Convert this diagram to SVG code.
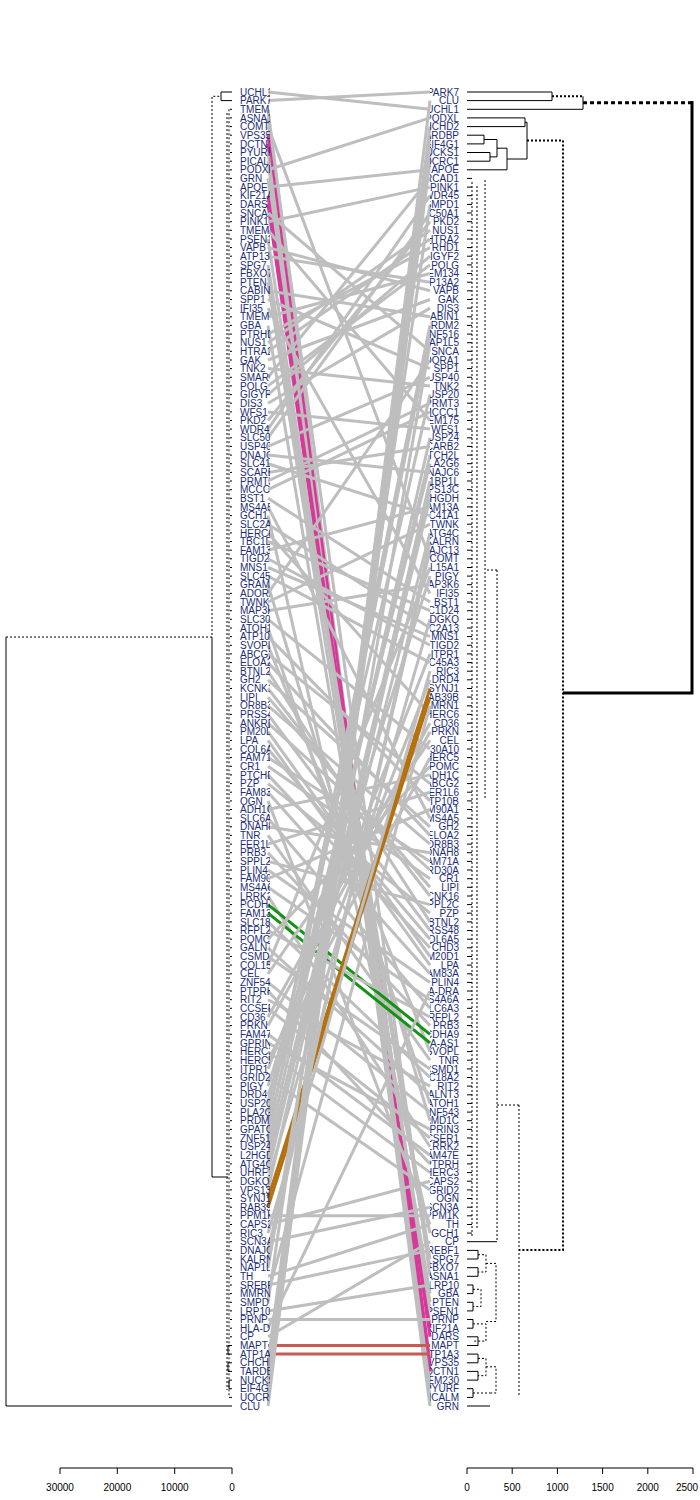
<svg xmlns="http://www.w3.org/2000/svg" width="700" height="1500" viewBox="0 0 700 1500">
<style>
.lab{font-family:"Liberation Sans",Arial,sans-serif;font-size:10px;fill:#1b2d78}
.re{text-anchor:end}
.cn line{stroke:#bebebe;stroke-width:3}
.cn line.m{stroke:#d6399a}
.cn line.b{stroke:#b4700c}
.cn line.g{stroke:#139313}
.cn line.r{stroke:#c75a52}
.d{fill:none;stroke:#000;stroke-width:1}
.dt{fill:none;stroke:#000;stroke-width:1;stroke-dasharray:2 2}
.ax{font-family:"Liberation Sans",Arial,sans-serif;font-size:10px;fill:#000;text-anchor:middle}
</style>
<defs>
<clipPath id="cl"><rect x="232" y="80" width="38" height="1340"/></clipPath>
<clipPath id="cr"><rect x="430" y="80" width="36" height="1340"/></clipPath>
</defs>
<rect width="700" height="1500" fill="#fff"/>

<g id="left-dendrogram">
<path class="d" d="M6,637V1406H232"/>
<path class="dt" d="M6,637H212V96.3H221"/>
<path class="d" d="M232,92H221V100.6H232"/>
<path class="d" d="M212,637V1177H228"/>
<path class="dt" d="M229,109.3V1397.4M227,113V1390"/>
<path class="dt" d="M232,109.3h-3M232,117.9h-3M232,126.6h-3M232,135.2h-3M232,143.9h-3M232,152.5h-3M232,161.2h-3M232,169.8h-3M232,178.4h-3M232,187.1h-3M232,195.7h-3M232,204.4h-3M232,213h-3M232,221.7h-3M232,230.3h-3M232,239h-3M232,247.6h-3M232,256.2h-3M232,264.9h-3M232,273.5h-3M232,282.2h-3M232,290.8h-3M232,299.5h-3M232,308.1h-3M232,316.8h-3M232,325.4h-3M232,334.1h-3M232,342.7h-3M232,351.3h-3M232,360h-3M232,368.6h-3M232,377.3h-3M232,385.9h-3M232,394.6h-3M232,403.2h-3M232,411.9h-3M232,420.5h-3M232,429.1h-3M232,437.8h-3M232,446.4h-3M232,455.1h-3M232,463.7h-3M232,472.4h-3M232,481h-3M232,489.7h-3M232,498.3h-3M232,506.9h-3M232,515.6h-3M232,524.2h-3M232,532.9h-3M232,541.5h-3M232,550.2h-3M232,558.8h-3M232,567.5h-3M232,576.1h-3M232,584.7h-3M232,593.4h-3M232,602h-3M232,610.7h-3M232,619.3h-3M232,628h-3M232,636.6h-3M232,645.3h-3M232,653.9h-3M232,662.6h-3M232,671.2h-3M232,679.8h-3M232,688.5h-3M232,697.1h-3M232,705.8h-3M232,714.4h-3M232,723.1h-3M232,731.7h-3M232,740.4h-3M232,749h-3M232,757.6h-3M232,766.3h-3M232,774.9h-3M232,783.6h-3M232,792.2h-3M232,800.9h-3M232,809.5h-3M232,818.2h-3M232,826.8h-3M232,835.4h-3M232,844.1h-3M232,852.7h-3M232,861.4h-3M232,870h-3M232,878.7h-3M232,887.3h-3M232,896h-3M232,904.6h-3M232,913.2h-3M232,921.9h-3M232,930.5h-3M232,939.2h-3M232,947.8h-3M232,956.5h-3M232,965.1h-3M232,973.8h-3M232,982.4h-3M232,991h-3M232,999.7h-3M232,1008.3h-3M232,1017h-3M232,1025.6h-3M232,1034.3h-3M232,1042.9h-3M232,1051.6h-3M232,1060.2h-3M232,1068.9h-3M232,1077.5h-3M232,1086.1h-3M232,1094.8h-3M232,1103.4h-3M232,1112.1h-3M232,1120.7h-3M232,1129.4h-3M232,1138h-3M232,1146.7h-3M232,1155.3h-3M232,1163.9h-3M232,1172.6h-3M232,1181.2h-3M232,1189.9h-3M232,1198.5h-3M232,1207.2h-3M232,1215.8h-3M232,1224.5h-3M232,1233.1h-3M232,1241.7h-3M232,1250.4h-3M232,1259h-3M232,1267.7h-3M232,1276.3h-3M232,1285h-3M232,1293.6h-3M232,1302.3h-3M232,1310.9h-3M232,1319.5h-3M232,1328.2h-3M232,1336.8h-3"/>
<path class="d" d="M232,1345.5h-4v8.6h4M232,1362.8h-4v8.6h4M232,1380.1h-3v8.6h3M232,1397.4h-3"/>
</g>

<g id="right-dendrogram">
<path class="d" d="M467,92H552V100.6H467"/>
<path class="dt" style="stroke-width:2" d="M552,96.3H583"/>
<path class="d" d="M467,109.3H583V96.3"/>
<path class="dt" style="stroke-width:3;stroke-dasharray:4 3" d="M583,102.8H692"/>
<path class="d" style="stroke-width:3" d="M692,101V693H563"/>
<path class="dt" style="stroke-width:2" d="M527,140.6H563V1250H519"/>
<path class="d" d="M467,117.9H525V126.6H467M525,122.3H527V159H507M467,135.2H484V143.9H467M484,139.5H497M467,152.5H490V161.2H467M490,156.9H497V139.5M497,148.2H507V169.8H467"/>
<path class="dt" d="M519,1105V1395M519,1105H497M497,570V1240M497,570H485M485,180V800M472,182V1236M477,186V1230"/>
<path class="d" d="M467,178.4h5M467,187.1h5M467,195.7h5M467,204.4h5M467,213h5M467,221.7h5M467,230.3h5M467,239h5M467,247.6h5M467,256.2h5M467,264.9h5M467,273.5h5M467,282.2h5M467,290.8h5M467,299.5h5M467,308.1h5M467,316.8h5M467,325.4h5M467,334.1h5M467,342.7h5M467,351.3h5M467,360h5M467,368.6h5M467,377.3h5M467,385.9h5M467,394.6h5M467,403.2h5M467,411.9h5M467,420.5h5M467,429.1h5M467,437.8h5M467,446.4h5M467,455.1h5M467,463.7h5M467,472.4h5M467,481h5M467,489.7h5M467,498.3h5M467,506.9h5M467,515.6h5M467,524.2h5M467,532.9h5M467,541.5h5M467,550.2h5M467,558.8h5M467,567.5h5M467,576.1h5M467,584.7h5M467,593.4h5M467,602h5M467,610.7h5M467,619.3h5M467,628h5M467,636.6h5M467,645.3h5M467,653.9h5M467,662.6h5M467,671.2h5M467,679.8h5M467,688.5h5M467,697.1h5M467,705.8h5M467,714.4h5M467,723.1h5M467,731.7h5M467,740.4h5M467,749h5M467,757.6h5M467,766.3h5M467,774.9h5M467,783.6h5M467,792.2h5M467,800.9h5M467,809.5h5M467,818.2h5M467,826.8h5M467,835.4h5M467,844.1h5M467,852.7h5M467,861.4h5M467,870h5M467,878.7h5M467,887.3h5M467,896h5M467,904.6h5M467,913.2h5M467,921.9h5M467,930.5h5M467,939.2h5M467,947.8h5M467,956.5h5M467,965.1h5M467,973.8h5M467,982.4h5M467,991h5M467,999.7h5M467,1008.3h5M467,1017h5M467,1025.6h5M467,1034.3h5M467,1042.9h5M467,1051.6h5M467,1060.2h5M467,1068.9h5M467,1077.5h5M467,1086.1h5M467,1094.8h5M467,1103.4h5M467,1112.1h5M467,1120.7h5M467,1129.4h5M467,1138h5M467,1146.7h5M467,1155.3h5M467,1163.9h5M467,1172.6h5M467,1181.2h5M467,1189.9h5M467,1198.5h5M467,1207.2h5M467,1215.8h5M467,1224.5h5M467,1233.1h5M467,1241.7h30"/>
<path class="d" d="M467,1250.4h11v8.6h-11M467,1267.7h11v8.6h-11M467,1285h6v8.6h-6M467,1302.3h6v8.6h-6M467,1319.5h6v8.7h-6M467,1336.8h11v8.7h-11M467,1354.1h11v8.7h-11M467,1371.4h11v8.7h-11M467,1388.7h6v8.7h-6M467,1406h23"/>
<path class="dt" d="M478,1254.7h8v17.3h-8M473,1289.3h8v17.3h-8M473,1323.9h13v17.2h-13M478,1358.4h8v17.3h-8M473,1393h17M486,1263.4h10v58.1h-10M486,1366.8h10v26.2h-6"/>
</g>

<g id="connectors" class="cn">
<line x1="268" y1="92" x2="430" y2="109.3"/>
<line x1="268" y1="100.6" x2="430" y2="92"/>
<line x1="268" y1="109.3" x2="430" y2="1380.1"/>
<line x1="268" y1="117.9" x2="430" y2="1276.3"/>
<line x1="268" y1="126.6" x2="430" y2="558.8"/>
<line class="m" x1="268" y1="135.2" x2="430" y2="1362.8"/>
<line class="m" x1="268" y1="143.9" x2="430" y2="1371.4"/>
<line x1="268" y1="152.5" x2="430" y2="1388.7"/>
<line x1="268" y1="161.2" x2="430" y2="1397.4"/>
<line x1="268" y1="169.8" x2="430" y2="117.9"/>
<line x1="268" y1="178.4" x2="430" y2="1406"/>
<line x1="268" y1="187.1" x2="430" y2="169.8"/>
<line class="m" x1="268" y1="195.7" x2="430" y2="1328.2"/>
<line class="m" x1="268" y1="204.4" x2="430" y2="1336.8"/>
<line x1="268" y1="213" x2="430" y2="351.3"/>
<line x1="268" y1="221.7" x2="430" y2="187.1"/>
<line x1="268" y1="230.3" x2="430" y2="420.5"/>
<line x1="268" y1="239" x2="430" y2="1310.9"/>
<line x1="268" y1="247.6" x2="430" y2="290.8"/>
<line x1="268" y1="256.2" x2="430" y2="282.2"/>
<line x1="268" y1="264.9" x2="430" y2="1259"/>
<line x1="268" y1="273.5" x2="430" y2="1267.7"/>
<line x1="268" y1="282.2" x2="430" y2="1302.3"/>
<line x1="268" y1="290.8" x2="430" y2="316.8"/>
<line x1="268" y1="299.5" x2="430" y2="368.6"/>
<line x1="268" y1="308.1" x2="430" y2="593.4"/>
<line x1="268" y1="316.8" x2="430" y2="273.5"/>
<line x1="268" y1="325.4" x2="430" y2="1293.6"/>
<line x1="268" y1="334.1" x2="430" y2="247.6"/>
<line x1="268" y1="342.7" x2="430" y2="230.3"/>
<line x1="268" y1="351.3" x2="430" y2="239"/>
<line x1="268" y1="360" x2="430" y2="299.5"/>
<line x1="268" y1="368.6" x2="430" y2="385.9"/>
<line x1="268" y1="377.3" x2="430" y2="178.4"/>
<line x1="268" y1="385.9" x2="430" y2="264.9"/>
<line x1="268" y1="394.6" x2="430" y2="256.2"/>
<line x1="268" y1="403.2" x2="430" y2="308.1"/>
<line x1="268" y1="411.9" x2="430" y2="429.1"/>
<line x1="268" y1="420.5" x2="430" y2="221.7"/>
<line x1="268" y1="429.1" x2="430" y2="195.7"/>
<line x1="268" y1="437.8" x2="430" y2="213"/>
<line x1="268" y1="446.4" x2="430" y2="377.3"/>
<line x1="268" y1="455.1" x2="430" y2="472.4"/>
<line x1="268" y1="463.7" x2="430" y2="515.6"/>
<line x1="268" y1="472.4" x2="430" y2="446.4"/>
<line x1="268" y1="481" x2="430" y2="403.2"/>
<line x1="268" y1="489.7" x2="430" y2="411.9"/>
<line x1="268" y1="498.3" x2="430" y2="602"/>
<line x1="268" y1="506.9" x2="430" y2="818.2"/>
<line x1="268" y1="515.6" x2="430" y2="1233.1"/>
<line x1="268" y1="524.2" x2="430" y2="628"/>
<line x1="268" y1="532.9" x2="430" y2="714.4"/>
<line x1="268" y1="541.5" x2="430" y2="610.7"/>
<line x1="268" y1="550.2" x2="430" y2="506.9"/>
<line x1="268" y1="558.8" x2="430" y2="645.3"/>
<line x1="268" y1="567.5" x2="430" y2="636.6"/>
<line x1="268" y1="576.1" x2="430" y2="662.6"/>
<line x1="268" y1="584.7" x2="430" y2="1120.7"/>
<line x1="268" y1="593.4" x2="430" y2="360"/>
<line x1="268" y1="602" x2="430" y2="524.2"/>
<line x1="268" y1="610.7" x2="430" y2="584.7"/>
<line x1="268" y1="619.3" x2="430" y2="749"/>
<line x1="268" y1="628" x2="430" y2="1103.4"/>
<line x1="268" y1="636.6" x2="430" y2="800.9"/>
<line x1="268" y1="645.3" x2="430" y2="1051.6"/>
<line x1="268" y1="653.9" x2="430" y2="783.6"/>
<line x1="268" y1="662.6" x2="430" y2="835.4"/>
<line x1="268" y1="671.2" x2="430" y2="921.9"/>
<line x1="268" y1="679.8" x2="430" y2="826.8"/>
<line x1="268" y1="688.5" x2="430" y2="896"/>
<line x1="268" y1="697.1" x2="430" y2="887.3"/>
<line x1="268" y1="705.8" x2="430" y2="844.1"/>
<line x1="268" y1="714.4" x2="430" y2="930.5"/>
<line x1="268" y1="723.1" x2="430" y2="870"/>
<line x1="268" y1="731.7" x2="430" y2="956.5"/>
<line x1="268" y1="740.4" x2="430" y2="965.1"/>
<line x1="268" y1="749" x2="430" y2="939.2"/>
<line x1="268" y1="757.6" x2="430" y2="861.4"/>
<line x1="268" y1="766.3" x2="430" y2="878.7"/>
<line x1="268" y1="774.9" x2="430" y2="947.8"/>
<line x1="268" y1="783.6" x2="430" y2="913.2"/>
<line x1="268" y1="792.2" x2="430" y2="973.8"/>
<line x1="268" y1="800.9" x2="430" y2="1224.5"/>
<line x1="268" y1="809.5" x2="430" y2="774.9"/>
<line x1="268" y1="818.2" x2="430" y2="1008.3"/>
<line x1="268" y1="826.8" x2="430" y2="852.7"/>
<line x1="268" y1="835.4" x2="430" y2="1060.2"/>
<line x1="268" y1="844.1" x2="430" y2="792.2"/>
<line x1="268" y1="852.7" x2="430" y2="1025.6"/>
<line x1="268" y1="861.4" x2="430" y2="904.6"/>
<line x1="268" y1="870" x2="430" y2="982.4"/>
<line x1="268" y1="878.7" x2="430" y2="809.5"/>
<line x1="268" y1="887.3" x2="430" y2="999.7"/>
<line x1="268" y1="896" x2="430" y2="1146.7"/>
<line class="g" x1="268" y1="904.6" x2="430" y2="1034.3"/>
<line class="g" x1="268" y1="913.2" x2="430" y2="1042.9"/>
<line x1="268" y1="921.9" x2="430" y2="1077.5"/>
<line x1="268" y1="930.5" x2="430" y2="1017"/>
<line x1="268" y1="939.2" x2="430" y2="766.3"/>
<line x1="268" y1="947.8" x2="430" y2="1094.8"/>
<line x1="268" y1="956.5" x2="430" y2="1068.9"/>
<line x1="268" y1="965.1" x2="430" y2="567.5"/>
<line x1="268" y1="973.8" x2="430" y2="740.4"/>
<line x1="268" y1="982.4" x2="430" y2="1112.1"/>
<line x1="268" y1="991" x2="430" y2="1163.9"/>
<line x1="268" y1="999.7" x2="430" y2="1086.1"/>
<line x1="268" y1="1008.3" x2="430" y2="1138"/>
<line x1="268" y1="1017" x2="430" y2="723.1"/>
<line x1="268" y1="1025.6" x2="430" y2="731.7"/>
<line x1="268" y1="1034.3" x2="430" y2="1155.3"/>
<line x1="268" y1="1042.9" x2="430" y2="1129.4"/>
<line x1="268" y1="1051.6" x2="430" y2="1172.6"/>
<line x1="268" y1="1060.2" x2="430" y2="757.6"/>
<line x1="268" y1="1068.9" x2="430" y2="653.9"/>
<line x1="268" y1="1077.5" x2="430" y2="1189.9"/>
<line x1="268" y1="1086.1" x2="430" y2="576.1"/>
<line x1="268" y1="1094.8" x2="430" y2="679.8"/>
<line x1="268" y1="1103.4" x2="430" y2="394.6"/>
<line x1="268" y1="1112.1" x2="430" y2="463.7"/>
<line x1="268" y1="1120.7" x2="430" y2="325.4"/>
<line x1="268" y1="1129.4" x2="430" y2="455.1"/>
<line x1="268" y1="1138" x2="430" y2="334.1"/>
<line x1="268" y1="1146.7" x2="430" y2="437.8"/>
<line x1="268" y1="1155.3" x2="430" y2="498.3"/>
<line x1="268" y1="1163.9" x2="430" y2="532.9"/>
<line x1="268" y1="1172.6" x2="430" y2="481"/>
<line x1="268" y1="1181.2" x2="430" y2="619.3"/>
<line x1="268" y1="1189.9" x2="430" y2="489.7"/>
<line class="b" x1="268" y1="1198.5" x2="430" y2="688.5"/>
<line class="b" x1="268" y1="1207.2" x2="430" y2="697.1"/>
<line x1="268" y1="1215.8" x2="430" y2="1215.8"/>
<line x1="268" y1="1224.5" x2="430" y2="1181.2"/>
<line x1="268" y1="1233.1" x2="430" y2="671.2"/>
<line x1="268" y1="1241.7" x2="430" y2="1207.2"/>
<line x1="268" y1="1250.4" x2="430" y2="550.2"/>
<line x1="268" y1="1259" x2="430" y2="541.5"/>
<line x1="268" y1="1267.7" x2="430" y2="342.7"/>
<line x1="268" y1="1276.3" x2="430" y2="1224.5"/>
<line x1="268" y1="1285" x2="430" y2="1250.4"/>
<line x1="268" y1="1293.6" x2="430" y2="705.8"/>
<line x1="268" y1="1302.3" x2="430" y2="204.4"/>
<line x1="268" y1="1310.9" x2="430" y2="1285"/>
<line x1="268" y1="1319.5" x2="430" y2="1319.5"/>
<line x1="268" y1="1328.2" x2="430" y2="991"/>
<line x1="268" y1="1336.8" x2="430" y2="1241.7"/>
<line class="r" x1="268" y1="1345.5" x2="430" y2="1345.5"/>
<line class="r" x1="268" y1="1354.1" x2="430" y2="1354.1"/>
<line x1="268" y1="1362.8" x2="430" y2="126.6"/>
<line x1="268" y1="1371.4" x2="430" y2="135.2"/>
<line x1="268" y1="1380.1" x2="430" y2="152.5"/>
<line x1="268" y1="1388.7" x2="430" y2="143.9"/>
<line x1="268" y1="1397.4" x2="430" y2="161.2"/>
<line x1="268" y1="1406" x2="430" y2="100.6"/>
</g>

<g id="left-labels" class="lab" clip-path="url(#cl)">
<g id="l1"><text x="240" y="95.6">UCHL1</text></g>
<g id="l2"><text x="240" y="104.2">PARK7</text></g>
<g id="l3"><text x="240" y="112.9">TMEM230</text></g>
<g id="l4"><text x="240" y="121.5">ASNA1</text></g>
<g id="l5"><text x="240" y="130.2">COMT</text></g>
<g id="l6"><text x="240" y="138.8">VPS35</text></g>
<g id="l7"><text x="240" y="147.5">DCTN1</text></g>
<g id="l8"><text x="240" y="156.1">PYURF</text></g>
<g id="l9"><text x="240" y="164.8">PICALM</text></g>
<g id="l10"><text x="240" y="173.4">PODXL</text></g>
<g id="l11"><text x="240" y="182">GRN</text></g>
<g id="l12"><text x="240" y="190.7">APOE</text></g>
<g id="l13"><text x="240" y="199.3">KIF21A</text></g>
<g id="l14"><text x="240" y="208">DARS</text></g>
<g id="l15"><text x="240" y="216.6">SNCA</text></g>
<g id="l16"><text x="240" y="225.3">PINK1</text></g>
<g id="l17"><text x="240" y="233.9">TMEM175</text></g>
<g id="l18"><text x="240" y="242.6">PSEN1</text></g>
<g id="l19"><text x="240" y="251.2">VAPB</text></g>
<g id="l20"><text x="240" y="259.8">ATP13A2</text></g>
<g id="l21"><text x="240" y="268.5">SPG7</text></g>
<g id="l22"><text x="240" y="277.1">FBXO7</text></g>
<g id="l23"><text x="240" y="285.8">PTEN</text></g>
<g id="l24"><text x="240" y="294.4">CABIN1</text></g>
<g id="l25"><text x="240" y="303.1">SPP1</text></g>
<g id="l26"><text x="240" y="311.7">IFI35</text></g>
<g id="l27"><text x="240" y="320.4">TMEM134</text></g>
<g id="l28"><text x="240" y="329">GBA</text></g>
<g id="l29"><text x="240" y="337.7">PTRHD1</text></g>
<g id="l30"><text x="240" y="346.3">NUS1</text></g>
<g id="l31"><text x="240" y="354.9">HTRA2</text></g>
<g id="l32"><text x="240" y="363.6">GAK</text></g>
<g id="l33"><text x="240" y="372.2">TNK2</text></g>
<g id="l34"><text x="240" y="380.9">SMARCAD1</text></g>
<g id="l35"><text x="240" y="389.5">POLG</text></g>
<g id="l36"><text x="240" y="398.2">GIGYF2</text></g>
<g id="l37"><text x="240" y="406.8">DIS3</text></g>
<g id="l38"><text x="240" y="415.5">WFS1</text></g>
<g id="l39"><text x="240" y="424.1">PKD2</text></g>
<g id="l40"><text x="240" y="432.7">WDR45</text></g>
<g id="l41"><text x="240" y="441.4">SLC50A1</text></g>
<g id="l42"><text x="240" y="450">USP40</text></g>
<g id="l43"><text x="240" y="458.7">DNAJC6</text></g>
<g id="l44"><text x="240" y="467.3">SLC41A1</text></g>
<g id="l45"><text x="240" y="476">SCARB2</text></g>
<g id="l46"><text x="240" y="484.6">PRMT3</text></g>
<g id="l47"><text x="240" y="493.3">MCCC1</text></g>
<g id="l48"><text x="240" y="501.9">BST1</text></g>
<g id="l49"><text x="240" y="510.5">MS4A5</text></g>
<g id="l50"><text x="240" y="519.2">GCH1</text></g>
<g id="l51"><text x="240" y="527.8">SLC2A13</text></g>
<g id="l52"><text x="240" y="536.5">HERC6</text></g>
<g id="l53"><text x="240" y="545.1">TBC1D24</text></g>
<g id="l54"><text x="240" y="553.8">FAM13A</text></g>
<g id="l55"><text x="240" y="562.4">TIGD2</text></g>
<g id="l56"><text x="240" y="571.1">MNS1</text></g>
<g id="l57"><text x="240" y="579.7">SLC45A3</text></g>
<g id="l58"><text x="240" y="588.3">GRAMD1C</text></g>
<g id="l59"><text x="240" y="597">ADORA1</text></g>
<g id="l60"><text x="240" y="605.6">TWNK</text></g>
<g id="l61"><text x="240" y="614.3">MAP3K6</text></g>
<g id="l62"><text x="240" y="622.9">SLC30A10</text></g>
<g id="l63"><text x="240" y="631.6">ATOH1</text></g>
<g id="l64"><text x="240" y="640.2">ATP10B</text></g>
<g id="l65"><text x="240" y="648.9">SVOPL</text></g>
<g id="l66"><text x="240" y="657.5">ABCG2</text></g>
<g id="l67"><text x="240" y="666.2">ELOA2</text></g>
<g id="l68"><text x="240" y="674.8">BTNL2</text></g>
<g id="l69"><text x="240" y="683.4">GH2</text></g>
<g id="l70"><text x="240" y="692.1">KCNK16</text></g>
<g id="l71"><text x="240" y="700.7">LIPI</text></g>
<g id="l72"><text x="240" y="709.4">OR8B3</text></g>
<g id="l73"><text x="240" y="718">PRSS48</text></g>
<g id="l74"><text x="240" y="726.7">ANKRD30A</text></g>
<g id="l75"><text x="240" y="735.3">PM20D1</text></g>
<g id="l76"><text x="240" y="744">LPA</text></g>
<g id="l77"><text x="240" y="752.6">COL6A5</text></g>
<g id="l78"><text x="240" y="761.2">FAM71A</text></g>
<g id="l79"><text x="240" y="769.9">CR1</text></g>
<g id="l80"><text x="240" y="778.5">PTCHD3</text></g>
<g id="l81"><text x="240" y="787.2">PZP</text></g>
<g id="l82"><text x="240" y="795.8">FAM83A</text></g>
<g id="l83"><text x="240" y="804.5">OGN</text></g>
<g id="l84"><text x="240" y="813.1">ADH1C</text></g>
<g id="l85"><text x="240" y="821.8">SLC6A3</text></g>
<g id="l86"><text x="240" y="830.4">DNAH8</text></g>
<g id="l87"><text x="240" y="839">TNR</text></g>
<g id="l88"><text x="240" y="847.7">FER1L6</text></g>
<g id="l89"><text x="240" y="856.3">PRB3</text></g>
<g id="l90"><text x="240" y="865">SPPL2C</text></g>
<g id="l91"><text x="240" y="873.6">PLIN4</text></g>
<g id="l92"><text x="240" y="882.3">FAM90A1</text></g>
<g id="l93"><text x="240" y="890.9">MS4A6A</text></g>
<g id="l94"><text x="240" y="899.6">LRRK2</text></g>
<g id="l95"><text x="240" y="908.2">PCDHA9</text></g>
<g id="l96"><text x="240" y="916.8">FAM13A-AS1</text></g>
<g id="l97"><text x="240" y="925.5">SLC18A2</text></g>
<g id="l98"><text x="240" y="934.1">RFPL2</text></g>
<g id="l99"><text x="240" y="942.8">POMC</text></g>
<g id="l100"><text x="240" y="951.4">GALNT3</text></g>
<g id="l101"><text x="240" y="960.1">CSMD1</text></g>
<g id="l102"><text x="240" y="968.7">COL15A1</text></g>
<g id="l103"><text x="240" y="977.4">CEL</text></g>
<g id="l104"><text x="240" y="986">ZNF543</text></g>
<g id="l105"><text x="240" y="994.6">PTPRH</text></g>
<g id="l106"><text x="240" y="1003.3">RIT2</text></g>
<g id="l107"><text x="240" y="1011.9">CCSER1</text></g>
<g id="l108"><text x="240" y="1020.6">CD36</text></g>
<g id="l109"><text x="240" y="1029.2">PRKN</text></g>
<g id="l110"><text x="240" y="1037.9">FAM47E</text></g>
<g id="l111"><text x="240" y="1046.5">GPRIN3</text></g>
<g id="l112"><text x="240" y="1055.2">HERC3</text></g>
<g id="l113"><text x="240" y="1063.8">HERC5</text></g>
<g id="l114"><text x="240" y="1072.5">ITPR1</text></g>
<g id="l115"><text x="240" y="1081.1">GRID2</text></g>
<g id="l116"><text x="240" y="1089.7">PIGY</text></g>
<g id="l117"><text x="240" y="1098.4">DRD4</text></g>
<g id="l118"><text x="240" y="1107">USP20</text></g>
<g id="l119"><text x="240" y="1115.7">PLA2G6</text></g>
<g id="l120"><text x="240" y="1124.3">PRDM2</text></g>
<g id="l121"><text x="240" y="1133">GPATCH2L</text></g>
<g id="l122"><text x="240" y="1141.6">ZNF516</text></g>
<g id="l123"><text x="240" y="1150.3">USP24</text></g>
<g id="l124"><text x="240" y="1158.9">L2HGDH</text></g>
<g id="l125"><text x="240" y="1167.5">ATG4C</text></g>
<g id="l126"><text x="240" y="1176.2">UHRF1BP1L</text></g>
<g id="l127"><text x="240" y="1184.8">DGKQ</text></g>
<g id="l128"><text x="240" y="1193.5">VPS13C</text></g>
<g id="l129"><text x="240" y="1202.1">SYNJ1</text></g>
<g id="l130"><text x="240" y="1210.8">RAB39B</text></g>
<g id="l131"><text x="240" y="1219.4">PPM1K</text></g>
<g id="l132"><text x="240" y="1228.1">CAPS2</text></g>
<g id="l133"><text x="240" y="1236.7">RIC3</text></g>
<g id="l134"><text x="240" y="1245.3">SCN3A</text></g>
<g id="l135"><text x="240" y="1254">DNAJC13</text></g>
<g id="l136"><text x="240" y="1262.6">KALRN</text></g>
<g id="l137"><text x="240" y="1271.3">NAP1L5</text></g>
<g id="l138"><text x="240" y="1279.9">TH</text></g>
<g id="l139"><text x="240" y="1288.6">SREBF1</text></g>
<g id="l140"><text x="240" y="1297.2">MMRN1</text></g>
<g id="l141"><text x="240" y="1305.9">SMPD1</text></g>
<g id="l142"><text x="240" y="1314.5">LRP10</text></g>
<g id="l143"><text x="240" y="1323.1">PRNP</text></g>
<g id="l144"><text x="240" y="1331.8">HLA-DRA</text></g>
<g id="l145"><text x="240" y="1340.4">CP</text></g>
<g id="l146"><text x="240" y="1349.1">MAPT</text></g>
<g id="l147"><text x="240" y="1357.7">ATP1A3</text></g>
<g id="l148"><text x="240" y="1366.4">CHCHD2</text></g>
<g id="l149"><text x="240" y="1375">TARDBP</text></g>
<g id="l150"><text x="240" y="1383.7">NUCKS1</text></g>
<g id="l151"><text x="240" y="1392.3">EIF4G1</text></g>
<g id="l152"><text x="240" y="1401">UQCRC1</text></g>
<g id="l153"><text x="240" y="1409.6">CLU</text></g>
</g>

<g id="right-labels" class="lab re" clip-path="url(#cr)">
<g id="r1"><text x="459" y="95.6">PARK7</text></g>
<g id="r2"><text x="459" y="104.2">CLU</text></g>
<g id="r3"><text x="459" y="112.9">UCHL1</text></g>
<g id="r4"><text x="459" y="121.5">PODXL</text></g>
<g id="r5"><text x="459" y="130.2">CHCHD2</text></g>
<g id="r6"><text x="459" y="138.8">TARDBP</text></g>
<g id="r7"><text x="459" y="147.5">EIF4G1</text></g>
<g id="r8"><text x="459" y="156.1">NUCKS1</text></g>
<g id="r9"><text x="459" y="164.8">UQCRC1</text></g>
<g id="r10"><text x="459" y="173.4">APOE</text></g>
<g id="r11"><text x="459" y="182">SMARCAD1</text></g>
<g id="r12"><text x="459" y="190.7">PINK1</text></g>
<g id="r13"><text x="459" y="199.3">WDR45</text></g>
<g id="r14"><text x="459" y="208">SMPD1</text></g>
<g id="r15"><text x="459" y="216.6">SLC50A1</text></g>
<g id="r16"><text x="459" y="225.3">PKD2</text></g>
<g id="r17"><text x="459" y="233.9">NUS1</text></g>
<g id="r18"><text x="459" y="242.6">HTRA2</text></g>
<g id="r19"><text x="459" y="251.2">PTRHD1</text></g>
<g id="r20"><text x="459" y="259.8">GIGYF2</text></g>
<g id="r21"><text x="459" y="268.5">POLG</text></g>
<g id="r22"><text x="459" y="277.1">TMEM134</text></g>
<g id="r23"><text x="459" y="285.8">ATP13A2</text></g>
<g id="r24"><text x="459" y="294.4">VAPB</text></g>
<g id="r25"><text x="459" y="303.1">GAK</text></g>
<g id="r26"><text x="459" y="311.7">DIS3</text></g>
<g id="r27"><text x="459" y="320.4">CABIN1</text></g>
<g id="r28"><text x="459" y="329">PRDM2</text></g>
<g id="r29"><text x="459" y="337.7">ZNF516</text></g>
<g id="r30"><text x="459" y="346.3">NAP1L5</text></g>
<g id="r31"><text x="459" y="354.9">SNCA</text></g>
<g id="r32"><text x="459" y="363.6">ADORA1</text></g>
<g id="r33"><text x="459" y="372.2">SPP1</text></g>
<g id="r34"><text x="459" y="380.9">USP40</text></g>
<g id="r35"><text x="459" y="389.5">TNK2</text></g>
<g id="r36"><text x="459" y="398.2">USP20</text></g>
<g id="r37"><text x="459" y="406.8">PRMT3</text></g>
<g id="r38"><text x="459" y="415.5">MCCC1</text></g>
<g id="r39"><text x="459" y="424.1">TMEM175</text></g>
<g id="r40"><text x="459" y="432.7">WFS1</text></g>
<g id="r41"><text x="459" y="441.4">USP24</text></g>
<g id="r42"><text x="459" y="450">SCARB2</text></g>
<g id="r43"><text x="459" y="458.7">GPATCH2L</text></g>
<g id="r44"><text x="459" y="467.3">PLA2G6</text></g>
<g id="r45"><text x="459" y="476">DNAJC6</text></g>
<g id="r46"><text x="459" y="484.6">UHRF1BP1L</text></g>
<g id="r47"><text x="459" y="493.3">VPS13C</text></g>
<g id="r48"><text x="459" y="501.9">L2HGDH</text></g>
<g id="r49"><text x="459" y="510.5">FAM13A</text></g>
<g id="r50"><text x="459" y="519.2">SLC41A1</text></g>
<g id="r51"><text x="459" y="527.8">TWNK</text></g>
<g id="r52"><text x="459" y="536.5">ATG4C</text></g>
<g id="r53"><text x="459" y="545.1">KALRN</text></g>
<g id="r54"><text x="459" y="553.8">DNAJC13</text></g>
<g id="r55"><text x="459" y="562.4">COMT</text></g>
<g id="r56"><text x="459" y="571.1">COL15A1</text></g>
<g id="r57"><text x="459" y="579.7">PIGY</text></g>
<g id="r58"><text x="459" y="588.3">MAP3K6</text></g>
<g id="r59"><text x="459" y="597">IFI35</text></g>
<g id="r60"><text x="459" y="605.6">BST1</text></g>
<g id="r61"><text x="459" y="614.3">TBC1D24</text></g>
<g id="r62"><text x="459" y="622.9">DGKQ</text></g>
<g id="r63"><text x="459" y="631.6">SLC2A13</text></g>
<g id="r64"><text x="459" y="640.2">MNS1</text></g>
<g id="r65"><text x="459" y="648.9">TIGD2</text></g>
<g id="r66"><text x="459" y="657.5">ITPR1</text></g>
<g id="r67"><text x="459" y="666.2">SLC45A3</text></g>
<g id="r68"><text x="459" y="674.8">RIC3</text></g>
<g id="r69"><text x="459" y="683.4">DRD4</text></g>
<g id="r70"><text x="459" y="692.1">SYNJ1</text></g>
<g id="r71"><text x="459" y="700.7">RAB39B</text></g>
<g id="r72"><text x="459" y="709.4">MMRN1</text></g>
<g id="r73"><text x="459" y="718">HERC6</text></g>
<g id="r74"><text x="459" y="726.7">CD36</text></g>
<g id="r75"><text x="459" y="735.3">PRKN</text></g>
<g id="r76"><text x="459" y="744">CEL</text></g>
<g id="r77"><text x="459" y="752.6">SLC30A10</text></g>
<g id="r78"><text x="459" y="761.2">HERC5</text></g>
<g id="r79"><text x="459" y="769.9">POMC</text></g>
<g id="r80"><text x="459" y="778.5">ADH1C</text></g>
<g id="r81"><text x="459" y="787.2">ABCG2</text></g>
<g id="r82"><text x="459" y="795.8">FER1L6</text></g>
<g id="r83"><text x="459" y="804.5">ATP10B</text></g>
<g id="r84"><text x="459" y="813.1">FAM90A1</text></g>
<g id="r85"><text x="459" y="821.8">MS4A5</text></g>
<g id="r86"><text x="459" y="830.4">GH2</text></g>
<g id="r87"><text x="459" y="839">ELOA2</text></g>
<g id="r88"><text x="459" y="847.7">OR8B3</text></g>
<g id="r89"><text x="459" y="856.3">DNAH8</text></g>
<g id="r90"><text x="459" y="865">FAM71A</text></g>
<g id="r91"><text x="459" y="873.6">ANKRD30A</text></g>
<g id="r92"><text x="459" y="882.3">CR1</text></g>
<g id="r93"><text x="459" y="890.9">LIPI</text></g>
<g id="r94"><text x="459" y="899.6">KCNK16</text></g>
<g id="r95"><text x="459" y="908.2">SPPL2C</text></g>
<g id="r96"><text x="459" y="916.8">PZP</text></g>
<g id="r97"><text x="459" y="925.5">BTNL2</text></g>
<g id="r98"><text x="459" y="934.1">PRSS48</text></g>
<g id="r99"><text x="459" y="942.8">COL6A5</text></g>
<g id="r100"><text x="459" y="951.4">PTCHD3</text></g>
<g id="r101"><text x="459" y="960.1">PM20D1</text></g>
<g id="r102"><text x="459" y="968.7">LPA</text></g>
<g id="r103"><text x="459" y="977.4">FAM83A</text></g>
<g id="r104"><text x="459" y="986">PLIN4</text></g>
<g id="r105"><text x="459" y="994.6">HLA-DRA</text></g>
<g id="r106"><text x="459" y="1003.3">MS4A6A</text></g>
<g id="r107"><text x="459" y="1011.9">SLC6A3</text></g>
<g id="r108"><text x="459" y="1020.6">RFPL2</text></g>
<g id="r109"><text x="459" y="1029.2">PRB3</text></g>
<g id="r110"><text x="459" y="1037.9">PCDHA9</text></g>
<g id="r111"><text x="459" y="1046.5">FAM13A-AS1</text></g>
<g id="r112"><text x="459" y="1055.2">SVOPL</text></g>
<g id="r113"><text x="459" y="1063.8">TNR</text></g>
<g id="r114"><text x="459" y="1072.5">CSMD1</text></g>
<g id="r115"><text x="459" y="1081.1">SLC18A2</text></g>
<g id="r116"><text x="459" y="1089.7">RIT2</text></g>
<g id="r117"><text x="459" y="1098.4">GALNT3</text></g>
<g id="r118"><text x="459" y="1107">ATOH1</text></g>
<g id="r119"><text x="459" y="1115.7">ZNF543</text></g>
<g id="r120"><text x="459" y="1124.3">GRAMD1C</text></g>
<g id="r121"><text x="459" y="1133">GPRIN3</text></g>
<g id="r122"><text x="459" y="1141.6">CCSER1</text></g>
<g id="r123"><text x="459" y="1150.3">LRRK2</text></g>
<g id="r124"><text x="459" y="1158.9">FAM47E</text></g>
<g id="r125"><text x="459" y="1167.5">PTPRH</text></g>
<g id="r126"><text x="459" y="1176.2">HERC3</text></g>
<g id="r127"><text x="459" y="1184.8">CAPS2</text></g>
<g id="r128"><text x="459" y="1193.5">GRID2</text></g>
<g id="r129"><text x="459" y="1202.1">OGN</text></g>
<g id="r130"><text x="459" y="1210.8">SCN3A</text></g>
<g id="r131"><text x="459" y="1219.4">PPM1K</text></g>
<g id="r132"><text x="459" y="1228.1">TH</text></g>
<g id="r133"><text x="459" y="1236.7">GCH1</text></g>
<g id="r134"><text x="459" y="1245.3">CP</text></g>
<g id="r135"><text x="459" y="1254">SREBF1</text></g>
<g id="r136"><text x="459" y="1262.6">SPG7</text></g>
<g id="r137"><text x="459" y="1271.3">FBXO7</text></g>
<g id="r138"><text x="459" y="1279.9">ASNA1</text></g>
<g id="r139"><text x="459" y="1288.6">LRP10</text></g>
<g id="r140"><text x="459" y="1297.2">GBA</text></g>
<g id="r141"><text x="459" y="1305.9">PTEN</text></g>
<g id="r142"><text x="459" y="1314.5">PSEN1</text></g>
<g id="r143"><text x="459" y="1323.1">PRNP</text></g>
<g id="r144"><text x="459" y="1331.8">KIF21A</text></g>
<g id="r145"><text x="459" y="1340.4">DARS</text></g>
<g id="r146"><text x="459" y="1349.1">MAPT</text></g>
<g id="r147"><text x="459" y="1357.7">ATP1A3</text></g>
<g id="r148"><text x="459" y="1366.4">VPS35</text></g>
<g id="r149"><text x="459" y="1375">DCTN1</text></g>
<g id="r150"><text x="459" y="1383.7">TMEM230</text></g>
<g id="r151"><text x="459" y="1392.3">PYURF</text></g>
<g id="r152"><text x="459" y="1401">PICALM</text></g>
<g id="r153"><text x="459" y="1409.6">GRN</text></g>
</g>

<g id="left-axis">
<path class="d" d="M60,1468H232M60,1468v6M117.3,1468v6M174.7,1468v6M232,1468v6"/>
<text class="ax" x="60" y="1491">30000</text>
<text class="ax" x="117.3" y="1491">20000</text>
<text class="ax" x="174.7" y="1491">10000</text>
<text class="ax" x="232" y="1491">0</text>
</g>
<g id="right-axis">
<path class="d" d="M467,1468H693M467,1468v6M512.2,1468v6M557.4,1468v6M602.6,1468v6M647.8,1468v6M693,1468v6"/>
<text class="ax" x="467" y="1491">0</text>
<text class="ax" x="512.2" y="1491">500</text>
<text class="ax" x="557.4" y="1491">1000</text>
<text class="ax" x="602.6" y="1491">1500</text>
<text class="ax" x="647.8" y="1491">2000</text>
<text class="ax" x="687" y="1491">2500</text>
</g>
</svg>
